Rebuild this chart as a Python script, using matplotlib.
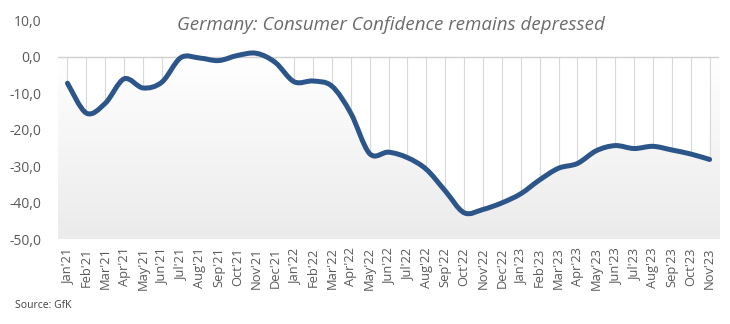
import numpy as np
import matplotlib.pyplot as plt
from matplotlib.path import Path
from matplotlib.patches import PathPatch
from matplotlib.colors import LinearSegmentedColormap

months = ["Jan'21", "Feb'21", "Mar'21", "Apr'21", "May'21", "Jun'21", "Jul'21", "Aug'21",
          "Sep'21", "Oct'21", "Nov'21", "Dec'21", "Jan'22", "Feb'22", "Mar'22", "Apr'22",
          "May'22", "Jun'22", "Jul'22", "Aug'22", "Sep'22", "Oct'22", "Nov'22", "Dec'22",
          "Jan'23", "Feb'23", "Mar'23", "Apr'23", "May'23", "Jun'23", "Jul'23", "Aug'23",
          "Sep'23", "Oct'23", "Nov'23"]
gfk = [-7.3, -15.5, -12.8, -6.1, -8.6, -7.0, -0.3, -0.4, -1.1, 0.3, 0.9, -1.6,
       -6.9, -6.7, -8.1, -15.5, -26.6, -26.2, -27.7, -30.9, -36.8, -42.8, -41.9, -40.1,
       -37.6, -33.8, -30.6, -29.3, -25.8, -24.4, -25.2, -24.6, -25.6, -26.7, -28.2]
yticks = [10, 0, -10, -20, -30, -40, -50]

x = np.arange(len(months))
y = np.array(gfk)
pts = np.column_stack([x, y])

# smooth line: cubic bezier segments through every point (catmull-rom style)
verts = [pts[0]]
codes = [Path.MOVETO]
n = len(pts)
for i in range(n - 1):
    p0 = pts[max(i - 1, 0)]
    p1 = pts[i]
    p2 = pts[i + 1]
    p3 = pts[min(i + 2, n - 1)]
    verts += [p1 + (p2 - p0) / 6, p2 - (p3 - p1) / 6, p2]
    codes += [Path.CURVE4] * 3
curve = Path(verts, codes)

fig = plt.figure(figsize=(7.3, 3.24), dpi=100)
ax = fig.add_axes([0.0795, 0.2623, 0.9055, 0.6757])
ax.set_xlim(-0.5, len(months) - 0.5)
ax.set_ylim(-50, 10)

# grey gradient under the curve
cmap = LinearSegmentedColormap.from_list('bg', ['#ffffff', '#ebebeb'])
grad = np.linspace(0, 1, 256).reshape(-1, 1)
ax.imshow(grad, extent=[-0.5, len(months) - 0.5, -50, 0], aspect='auto', cmap=cmap,
          origin='upper', zorder=0, interpolation='bilinear')

# white band between zero line and the curve
band = Path(verts + [(x[-1], 0), (x[0], 0), (x[0], y[0])],
            codes + [Path.LINETO, Path.LINETO, Path.CLOSEPOLY])
ax.add_patch(PathPatch(band, facecolor='white', edgecolor='none', zorder=1))

ax.vlines(x, y, 0, color='#d9d9d9', lw=0.8, zorder=2)
ax.axhline(0, color='#d0d0d0', lw=1.0, zorder=2)

ax.add_patch(PathPatch(curve, facecolor='none', edgecolor='#2c5589', lw=3.6,
                       capstyle='round', joinstyle='round', zorder=3))

for s in ax.spines.values():
    s.set_visible(False)
ax.set_yticks(yticks)
ax.set_yticklabels([f'{v:.1f}'.replace('.', ',') for v in yticks],
                   fontsize=10, color='#595959', family='Open Sans')
ax.set_xticks(x)
ax.set_xticklabels(months, rotation=90, fontsize=9.3, color='#595959', family='Open Sans')
ax.tick_params(length=0, pad=6)
ax.tick_params(axis='y', pad=12)

fig.text(0.536, 0.922, 'Germany: Consumer Confidence remains depressed', ha='center',
         va='center', fontsize=13.5, style='italic', color='#6b6b6b', family='Open Sans')
fig.text(0.02, 0.057, 'Source: GfK', fontsize=7.5, color='#404040', family='Open Sans',
         va='center')

plt.savefig('out.png', dpi=100)
